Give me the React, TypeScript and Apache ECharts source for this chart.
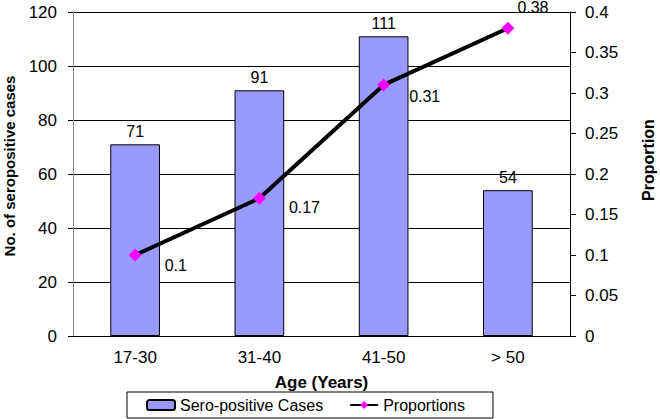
import React, { useEffect, useRef } from "react";
import * as echarts from "echarts";

const categories = ["17-30", "31-40", "41-50", "> 50"];
const cases = [71, 91, 111, 54];
const proportions = [0.1, 0.17, 0.31, 0.38];
const labelOffsets: [number, number][] = [[18, 10], [18, 9], [14, 12], [-2, -21]];

export default function App() {
  const ref = useRef<HTMLDivElement>(null);
  useEffect(() => {
    const chart = echarts.init(ref.current!, null, { renderer: "svg" });
    const font = "Arial, 'Liberation Sans', sans-serif";
    chart.setOption({
      animation: false,
      textStyle: { fontFamily: font, color: "#000" },
      grid: { left: 73, right: 90, top: 12, bottom: 83, containLabel: false, outerBoundsMode: "none" },
      legend: {
        left: 127,
        top: 392,
        padding: [5, 28, 5, 19],
        borderColor: "#000",
        borderWidth: 1,
        itemWidth: 28,
        itemHeight: 10,
        itemGap: 26,
        textStyle: { fontSize: 16, color: "#000", fontFamily: font },
        data: ["Sero-positive Cases", "Proportions"],
      },
      xAxis: {
        type: "category",
        data: categories,
        name: "Age (Years)",
        nameLocation: "middle",
        nameGap: 38,
        nameTextStyle: { fontWeight: "bold", fontSize: 17, color: "#000" },
        axisLine: { lineStyle: { color: "#000" } },
        axisTick: { length: 6, lineStyle: { color: "#000" } },
        axisLabel: { fontSize: 17, color: "#000", margin: 13 },
      },
      yAxis: [
        {
          type: "value",
          min: 0,
          max: 120,
          interval: 20,
          name: "No. of seropositive cases",
          nameLocation: "middle",
          nameGap: 56,
          nameTextStyle: { fontWeight: "bold", fontSize: 15, color: "#000", padding: [0, 0, 0, 16] },
          axisLine: { show: true, lineStyle: { color: "#888" } },
          axisTick: { show: true, length: 5, lineStyle: { color: "#000" } },
          axisLabel: { fontSize: 17, color: "#000", margin: 16 },
          splitLine: { show: true, lineStyle: { color: "#000", width: 1 } },
        },
        {
          type: "value",
          min: 0,
          max: 0.4,
          interval: 0.05,
          name: "Proportion",
          nameLocation: "middle",
          nameGap: 70,
          nameTextStyle: { fontWeight: "bold", fontSize: 16, color: "#000", padding: [0, 0, 0, 28] },
          axisLine: { show: true, lineStyle: { color: "#000" } },
          axisTick: { show: true, length: 6, lineStyle: { color: "#000" } },
          axisLabel: { fontSize: 17, color: "#000", margin: 15 },
          splitLine: { show: false },
        },
      ],
      series: [
        {
          name: "Sero-positive Cases",
          type: "bar",
          data: cases,
          barWidth: "40%",
          itemStyle: { color: "#9999FF", borderColor: "#000", borderWidth: 1 },
          label: { show: true, position: "top", fontSize: 16, color: "#000", distance: 5 },
        },
        {
          name: "Proportions",
          type: "line",
          yAxisIndex: 1,
          data: proportions.map((v, i) => ({
            value: v,
            label: { offset: labelOffsets[i] },
          })),
          symbol: "diamond",
          symbolSize: 13,
          lineStyle: { color: "#000", width: 4 },
          itemStyle: { color: "#FF00FF" },
          label: { show: true, position: "right", fontSize: 16, color: "#000" },
        },
      ],
    });
    return () => chart.dispose();
  }, []);
  return <div ref={ref} style={{ width: 660, height: 419, position: "absolute", left: 0, top: 0 }} />;
}
